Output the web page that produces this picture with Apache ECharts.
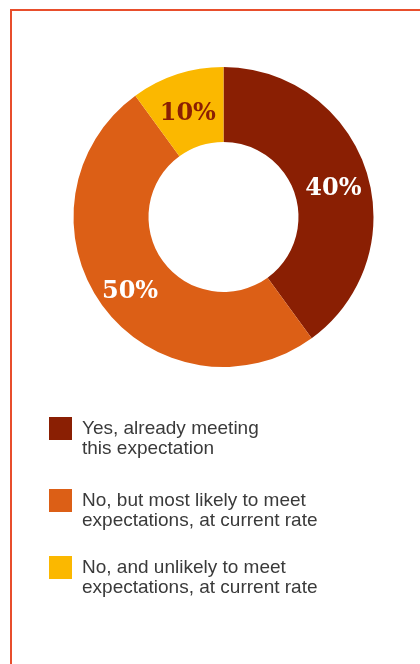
<!DOCTYPE html>
<html>
<head>
<meta charset="utf-8">
<script src="https://cdn.jsdelivr.net/npm/echarts@6/dist/echarts.min.js"></script>
<style>
html,body{margin:0;padding:0;background:#fff;}
#chart{width:420px;height:664px;}
</style>
</head>
<body>
<div id="chart"></div>
<script>
var categories = [
  "Yes, already meeting\nthis expectation",
  "No, but most likely to meet\nexpectations, at current rate",
  "No, and unlikely to meet\nexpectations, at current rate"
];
var values = [40, 50, 10];
var colors = ["#8a1f03", "#dc5f16", "#fbb800"];
var labelColors = ["#ffffff", "#ffffff", "#8a1f03"];

var chart = echarts.init(document.getElementById('chart'), null, {renderer: 'canvas'});

var legendTops = [417, 489, 556];
var graphics = [{
  type: 'polyline',
  shape: {points: [[11, 664], [11, 10], [420, 10]]},
  style: {stroke: '#e84e2c', lineWidth: 2, fill: null},
  silent: true
}];
categories.forEach(function (c, i) {
  graphics.push({
    type: 'rect',
    shape: {x: 49, y: legendTops[i], width: 23, height: 23},
    style: {fill: colors[i]}
  });
  graphics.push({
    type: 'text',
    x: 82,
    y: legendTops[i] + 2,
    style: {
      text: c,
      fill: '#3a3a3a',
      font: '19px "Liberation Sans", Arial, sans-serif',
      lineHeight: 20,
      verticalAlign: 'top',
      align: 'left'
    }
  });
});

chart.setOption({
  animation: false,
  backgroundColor: '#ffffff',
  graphic: graphics,
  series: [{
    type: 'pie',
    center: [223.5, 217],
    radius: [75, 150],
    startAngle: 90,
    clockwise: true,
    avoidLabelOverlap: false,
    labelLine: {show: false},
    itemStyle: {borderWidth: 0},
    emphasis: {disabled: true},
    data: categories.map(function (c, i) {
      return {
        name: c,
        value: values[i],
        itemStyle: {color: colors[i]},
        label: {color: labelColors[i]}
      };
    }),
    label: {
      show: true,
      position: 'inside',
      formatter: function (p) { return '{v|' + p.value + '%}'; },
      fontFamily: '"DejaVu Serif", serif',
      fontWeight: 'bold',
      fontSize: 24,
      rich: {
        v: {
          fontFamily: '"DejaVu Serif", serif',
          fontWeight: 'bold',
          fontSize: 24,
          lineHeight: 26,
          padding: [14, 0, 0, 0],
          backgroundColor: 'rgba(0,0,0,0)'
        }
      }
    }
  }]
});
</script>
</body>
</html>
